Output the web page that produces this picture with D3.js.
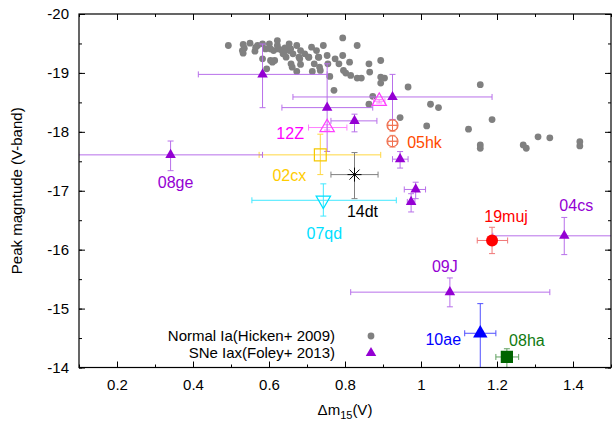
<!DOCTYPE html>
<html>
<head>
<meta charset="utf-8">
<script src="https://cdn.jsdelivr.net/npm/d3@7"></script>
<style>
  body { margin: 0; background: #fff; }
  svg { display: block; font-family: "Liberation Sans", Arial, sans-serif; }
</style>
</head>
<body>
<svg id="chart" width="612" height="426"></svg>
<script>
// Normal Ia (Hicken+ 2009)
const normalDm15 = [0.493,0.532,0.532,0.535,0.550,0.563,0.570,0.583,0.583,0.591,0.594,0.601,0.604,0.612,0.615,0.622,0.622,0.624,0.632,0.637,0.642,0.645,0.653,0.653,0.658,0.663,0.673,0.673,0.681,0.683,0.683,0.694,0.704,0.712,0.714,0.719,0.725,0.730,0.733,0.735,0.743,0.753,0.755,0.760,0.771,0.774,0.784,0.794,0.794,0.796,0.802,0.812,0.815,0.832,0.832,0.843,0.863,0.865,0.863,0.873,0.894,0.894,0.894,0.904,0.945,0.966,1.015,1.025,1.046,1.125,1.156,1.187,1.308,1.156,1.156,1.269,1.277,1.339,1.418,1.418,0.530,0.565,0.604,0.639,0.657,0.679,0.705,0.731,0.609,0.661];
const normalPeak = [-19.465,-19.482,-19.335,-19.420,-19.504,-19.369,-19.465,-19.493,-19.239,-19.408,-19.070,-19.493,-19.211,-19.380,-19.211,-19.549,-19.465,-19.408,-19.392,-19.324,-19.425,-19.268,-19.493,-19.380,-19.155,-19.324,-19.465,-19.025,-19.239,-19.144,-19.380,-19.324,-19.268,-19.437,-19.025,-19.155,-19.380,-19.268,-19.099,-19.042,-19.465,-19.296,-19.155,-18.941,-18.704,-19.239,-19.155,-19.594,-19.296,-19.042,-18.997,-19.183,-18.958,-19.465,-18.913,-18.913,-19.155,-19.014,-18.468,-18.603,-19.211,-18.930,-18.828,-18.913,-18.242,-18.761,-18.101,-18.468,-18.411,-18.045,-18.800,-18.208,-17.915,-17.777,-17.721,-17.777,-17.721,-17.899,-17.832,-17.760,-19.379,-19.435,-19.407,-19.351,-19.407,-19.266,-19.266,-19.266,-19.182,-19.098];

// SNe Iax (Foley+ 2013): value, error range lo/hi
const iaxName   = ['', '', '', '', '', '', '', '08ge', '04cs', '09J'];
const iaxDm15   = [0.583, 0.753, 0.825, 0.925, 0.945, 0.986, 0.974, 0.341, 1.377, 1.076];
const iaxDm15Lo = [0.414, 0.634, 0.763, 0.663, 0.925, 0.956, 0.964, 0.099, 1.189, 0.815];
const iaxDm15Hi = [0.753, 0.873, 0.884, 1.187, 0.966, 1.012, 0.984, 0.583, 1.565, 1.339];
const iaxPeak   = [-18.975, -18.411, -18.186, -18.592, -17.536, -17.022, -16.810, -17.609, -16.235, -15.279];
const iaxPeakLo = [-19.490, -19.155, -18.300, -18.975, -17.665, -17.145, -16.950, -17.844, -16.547, -15.520];
const iaxPeakHi = [-18.410, -17.667, -18.000, -18.210, -17.385, -16.866, -16.640, -17.341, -15.916, -15.030];

// individual objects
const objName   = ['12Z', '12Z', '02cx', '05hk', '05hk', '14dt', '07qd', '19muj', '10ae', '08ha'];
const objDm15   = [0.753, 0.890, 0.735, 0.925, 0.925, 0.825, 0.743, 1.187, 1.156, 1.226];
const objDm15Lo = [0.704, 0.875, 0.574, 0.913, 0.913, 0.763, 0.555, 1.148, 1.115, 1.197];
const objDm15Hi = [0.805, 0.905, 0.894, 0.937, 0.937, 0.887, 0.935, 1.228, 1.197, 1.257];
const objPeak   = [-18.073, -18.520, -17.609, -18.110, -17.840, -17.274, -16.838, -16.156, -14.581, -14.179];
const objPeakLo = [-18.120, -18.550, -17.960, -18.210, -17.940, -17.648, -17.117, -16.380, -15.084, -14.318];
const objPeakHi = [-18.030, -18.490, -17.274, -18.010, -17.740, -16.866, -16.570, -15.933, -14.000, -14.000];

const xTicks = [0.2, 0.4, 0.6, 0.8, 1.0, 1.2, 1.4];
const xTickLabels = ['0.2', '0.4', '0.6', '0.8', '1', '1.2', '1.4'];
const yTicks = [-20, -19, -18, -17, -16, -15, -14];
const yTickLabels = ['-20', '-19', '-18', '-17', '-16', '-15', '-14'];

const svg = d3.select('#chart');
const margin = {left: 79, right: 611, top: 14, bottom: 367.5};

const x = d3.scaleLinear().domain([0.1, 1.5]).range([margin.left, margin.right]);
const y = d3.scaleLinear().domain([-20, -14]).range([margin.top, margin.bottom]);

svg.append('defs').append('clipPath').attr('id', 'plot')
  .append('rect').attr('x', margin.left).attr('y', margin.top)
  .attr('width', margin.right - margin.left).attr('height', margin.bottom - margin.top);

// Axes: ticks inward on all four sides
const xMinor = d3.range(0.1, 1.51, 0.1).map(d => +d.toFixed(1));
const yMinor = d3.range(-20, -13.9, 0.5);

function axisGroup(axis, tx, ty) {
  const g = svg.append('g').attr('transform', `translate(${tx},${ty})`).call(axis);
  g.select('.domain').remove();
  g.selectAll('line').attr('stroke', '#000');
  g.selectAll('text').attr('font-size', 15).attr('font-family', '"Liberation Sans", Arial, sans-serif').attr('fill', '#000');
  return g;
}

axisGroup(d3.axisBottom(x).tickValues(xMinor).tickSize(-3).tickFormat(''), 0, margin.bottom);
axisGroup(d3.axisTop(x).tickValues(xMinor).tickSize(-3).tickFormat(''), 0, margin.top);
axisGroup(d3.axisLeft(y).tickValues(yMinor).tickSize(-3).tickFormat(''), margin.left, 0);
axisGroup(d3.axisRight(y).tickValues(yMinor).tickSize(-3).tickFormat(''), margin.right, 0);

axisGroup(d3.axisBottom(x).tickValues(xTicks).tickSize(-6).tickPadding(12)
  .tickFormat((d, i) => xTickLabels[i]), 0, margin.bottom);
axisGroup(d3.axisTop(x).tickValues(xTicks).tickSize(-6).tickFormat(''), 0, margin.top);
axisGroup(d3.axisLeft(y).tickValues(yTicks).tickSize(-6).tickPadding(10)
  .tickFormat((d, i) => yTickLabels[i]), margin.left, 0);
axisGroup(d3.axisRight(y).tickValues(yTicks).tickSize(-6).tickFormat(''), margin.right, 0);

// Axis titles
svg.append('text')
  .attr('transform', `translate(22,${(margin.top + margin.bottom) / 2}) rotate(-90)`)
  .attr('text-anchor', 'middle')
  .attr('font-size', 15)
  .text('Peak magntude (V-band)');

const xTitle = svg.append('text')
  .attr('x', (margin.left + margin.right) / 2)
  .attr('y', 415)
  .attr('text-anchor', 'middle')
  .attr('font-size', 15);
xTitle.append('tspan').text('\u0394m');
xTitle.append('tspan').attr('font-size', 11).attr('dy', 4).text('15');
xTitle.append('tspan').attr('dy', -4).text('(V)');

const plot = svg.append('g').attr('clip-path', 'url(#plot)');

// Normal Ia
plot.append('g').selectAll('circle')
  .data(normalDm15.map((d, i) => ({dm: d, mag: normalPeak[i]})))
  .join('circle')
    .attr('cx', d => x(d.dm))
    .attr('cy', d => y(d.mag))
    .attr('r', 3.4)
    .attr('fill', '#808080');

// error bars helper
function errorBars(g, d, color, cap) {
  const e = g.append('g').attr('stroke', color).attr('stroke-width', 1).attr('fill', 'none');
  e.append('line').attr('x1', x(d.lo)).attr('x2', x(d.hi)).attr('y1', y(d.mag)).attr('y2', y(d.mag));
  e.append('line').attr('x1', x(d.dm)).attr('x2', x(d.dm)).attr('y1', y(d.magLo)).attr('y2', y(d.magHi));
  [d.lo, d.hi].forEach(v => e.append('line')
    .attr('x1', x(v)).attr('x2', x(v)).attr('y1', y(d.mag) - cap).attr('y2', y(d.mag) + cap));
  [d.magLo, d.magHi].forEach(v => e.append('line')
    .attr('x1', x(d.dm) - cap).attr('x2', x(d.dm) + cap).attr('y1', y(v)).attr('y2', y(v)));
}

const iax = iaxDm15.map((d, i) => ({
  name: iaxName[i], dm: d, lo: iaxDm15Lo[i], hi: iaxDm15Hi[i],
  mag: iaxPeak[i], magLo: iaxPeakLo[i], magHi: iaxPeakHi[i]
}));
const obj = objDm15.map((d, i) => ({
  name: objName[i], dm: d, lo: objDm15Lo[i], hi: objDm15Hi[i],
  mag: objPeak[i], magLo: objPeakLo[i], magHi: objPeakHi[i]
}));

const violet = '#9400d3';
const objStyle = {
  '12Z':   {bar: '#ff80ff', color: '#ff40ff', text: '#ff00ff', dx: -37, dy: 6},
  '02cx':  {bar: '#ffd740', color: '#f5c800', text: '#ffcc00', dx: -31, dy: 20},
  '05hk':  {bar: '#f49070', color: '#f07050', text: '#ff4a00', dx: 32, dy: 1},
  '14dt':  {bar: '#808080', color: '#000000', text: '#000000', dx: 8, dy: 37},
  '07qd':  {bar: '#40e8ff', color: '#00e0ff', text: '#00e0ff', dx: 1, dy: 33},
  '19muj': {bar: '#f07878', color: '#ff0000', text: '#ff0000', dx: 14, dy: -24},
  '10ae':  {bar: '#5050ff', color: '#0000ff', text: '#0000ff', dx: -37, dy: 6},
  '08ha':  {bar: '#60a060', color: '#006400', text: '#107a10', dx: 20, dy: -17}
};
const iaxLabel = {'08ge': {dx: 5, dy: 27}, '04cs': {dx: 12, dy: -31}, '09J': {dx: -5, dy: -26}};

obj.forEach(d => errorBars(plot, d, objStyle[d.name].bar, 3));
iax.forEach(d => errorBars(plot, d, '#b870ea', 3));

// Iax triangles
plot.append('g').selectAll('path')
  .data(iax)
  .join('path')
    .attr('transform', d => `translate(${x(d.dm)},${y(d.mag)})`)
    .attr('d', d3.symbol(d3.symbolTriangle, 48))
    .attr('fill', violet);

// individual markers
const markers = plot.append('g');
obj.forEach((d, i) => {
  const s = objStyle[d.name];
  const g = markers.append('g').attr('transform', `translate(${x(d.dm)},${y(d.mag)})`);
  if (d.name === '12Z') {
    g.append('path').attr('d', d3.symbol(d3.symbolTriangle, 90)).attr('fill', 'none')
      .attr('stroke', s.color).attr('stroke-width', 1.2);
  } else if (d.name === '02cx') {
    g.append('path').attr('d', d3.symbol(d3.symbolSquare, 140)).attr('fill', 'none')
      .attr('stroke', s.color).attr('stroke-width', 1.2);
  } else if (d.name === '05hk') {
    g.append('circle').attr('r', 5.5).attr('fill', 'none').attr('stroke', s.color).attr('stroke-width', 1.2);
    g.append('path').attr('d', 'M-5.5,0H5.5M0,-5.5V5.5').attr('stroke', s.color).attr('stroke-width', 1);
  } else if (d.name === '14dt') {
    g.append('path').attr('d', 'M-7,0H7M0,-7V7M-5,-5L5,5M-5,5L5,-5').attr('stroke', s.color).attr('stroke-width', 1);
  } else if (d.name === '07qd') {
    g.append('path').attr('d', d3.symbol(d3.symbolTriangle, 90)).attr('transform', 'rotate(180)')
      .attr('fill', 'none').attr('stroke', s.color).attr('stroke-width', 1.2);
  } else if (d.name === '19muj') {
    g.append('circle').attr('r', 6).attr('fill', s.color);
  } else if (d.name === '10ae') {
    g.append('path').attr('d', d3.symbol(d3.symbolTriangle, 90)).attr('fill', s.color);
  } else if (d.name === '08ha') {
    g.append('path').attr('d', d3.symbol(d3.symbolSquare, 150)).attr('fill', s.color);
  }
});

// labels
const labels = svg.append('g').attr('font-size', 16).attr('text-anchor', 'middle');
const labelled = new Set();
obj.forEach(d => {
  if (labelled.has(d.name)) return;
  labelled.add(d.name);
  const s = objStyle[d.name];
  const ref = d.name === '05hk' ? obj[4] : d;
  labels.append('text')
    .attr('x', x(ref.dm) + s.dx).attr('y', y(ref.mag) + s.dy)
    .attr('dy', '0.36em').attr('fill', s.text).text(d.name);
});
iax.filter(d => d.name).forEach(d => {
  labels.append('text')
    .attr('x', x(d.dm) + iaxLabel[d.name].dx).attr('y', y(d.mag) + iaxLabel[d.name].dy)
    .attr('dy', '0.36em').attr('fill', violet).text(d.name);
});

// legend
const legend = svg.append('g').attr('font-size', 15);
legend.append('text').attr('x', 335).attr('y', 336).attr('dy', '0.36em')
  .attr('text-anchor', 'end').text('Normal Ia(Hicken+ 2009)');
legend.append('circle').attr('cx', 371).attr('cy', 336).attr('r', 3.4).attr('fill', '#808080');
legend.append('text').attr('x', 335).attr('y', 353).attr('dy', '0.36em')
  .attr('text-anchor', 'end').text('SNe Iax(Foley+ 2013)');
legend.append('path').attr('transform', 'translate(371,353)')
  .attr('d', d3.symbol(d3.symbolTriangle, 48)).attr('fill', violet);

// border
svg.append('rect')
  .attr('x', margin.left).attr('y', margin.top)
  .attr('width', margin.right - margin.left).attr('height', margin.bottom - margin.top)
  .attr('fill', 'none').attr('stroke', '#000').attr('stroke-width', 1.2);
</script>
</body>
</html>
